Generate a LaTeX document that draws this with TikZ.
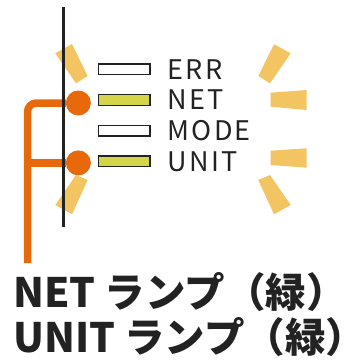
\documentclass[tikz,border=0pt]{standalone}
\usepackage{fontspec}
\setmainfont{Noto Sans CJK JP}
\usepackage{xcolor}
\usepackage{tikz}
\usetikzlibrary{positioning}

\definecolor{wireorange}{RGB}{232,104,12}
\definecolor{glow}{RGB}{243,196,98}
\definecolor{ledgreen}{RGB}{212,213,72}
\definecolor{ink}{RGB}{34,34,34}

\begin{document}
\begin{tikzpicture}[
    x=1pt, y=-1pt,
    node distance=20pt,
    led/.style={rectangle, draw=ink, line width=1.3pt, fill=white, minimum width=51.7pt, minimum height=10.7pt, inner sep=0pt, outer sep=0pt},
    ledon/.style={led, fill=ledgreen},
    lbl/.style={inner sep=0pt, text=ink, font=\fontsize{27}{27}\selectfont\addfontfeatures{LetterSpace=8}},
    dot/.style={circle, fill=wireorange, minimum size=25pt, inner sep=0pt, outer sep=0pt},
    wire/.style={wireorange, line width=7.5pt, rounded corners=9pt},
    edge/.style={ink, line width=3.5pt},
    ray/.style={fill=glow},
    caption/.style={anchor=base west, inner sep=0pt, text=ink, font=\fontsize{40.5}{40.5}\selectfont\bfseries}
]
\useasboundingbox (0,0) rectangle (354,362);

% Glow rays
\fill[ray] (72,44) -- (55.3,53.3) -- (76,83.3) -- (87.7,76) -- cycle;
\fill[ray] (87.7,180) -- (76,175) -- (55.3,205) -- (72,214.3) -- cycle;
\fill[ray] (274,44.3) -- (290.7,53.3) -- (270,83.3) -- (258.3,76) -- cycle;
\fill[ray] (270.7,92.7) -- (306.7,90) -- (306.7,110) -- (270.7,106.7) -- cycle;
\fill[ray] (270.7,150.7) -- (306.7,148.3) -- (306.7,167.7) -- (270.7,165) -- cycle;
\fill[ray] (258.3,180) -- (270,175) -- (290.7,205) -- (274,214.3) -- cycle;

% LED lamps
\node[led] (errled) at (124.2,69.3) {};
\node[ledon, below=of errled] (netled) {};
\node[led, below=of netled] (modeled) {};
\node[ledon, below=of modeled] (unitled) {};

% Lamp labels
\node[lbl, right=17.5pt of errled] (errlbl) {ERR};
\node[lbl, right=17.5pt of netled] (netlbl) {NET};
\node[lbl, right=17.5pt of modeled] (modelbl) {MODE};
\node[lbl, right=17.5pt of unitled] (unitlbl) {UNIT};

% Pointer dots
\node[dot, left=7.5pt of netled, yshift=-3pt] (netdot) {};
\node[dot, left=7.5pt of unitled, yshift=-1.5pt] (unitdot) {};

% Leader wires
\coordinate (wireend) at (27.5,263);
\draw[wire] (wireend) |- (netdot);
\draw[wire] (wireend |- unitdot) -- (unitdot);

% Panel edge
\coordinate (edgetop) at (63.5,7);
\coordinate (edgebot) at (63.5,227);
\draw[edge] (edgetop) -- (edgebot);

% Caption
\node[caption] (netcap) at (13,307.5) {NET ランプ（緑）\kern-.5em};
\node[caption] (unitcap) at (13,352.5) {UNIT ランプ（緑）\kern-.5em};
\end{tikzpicture}
\end{document}
